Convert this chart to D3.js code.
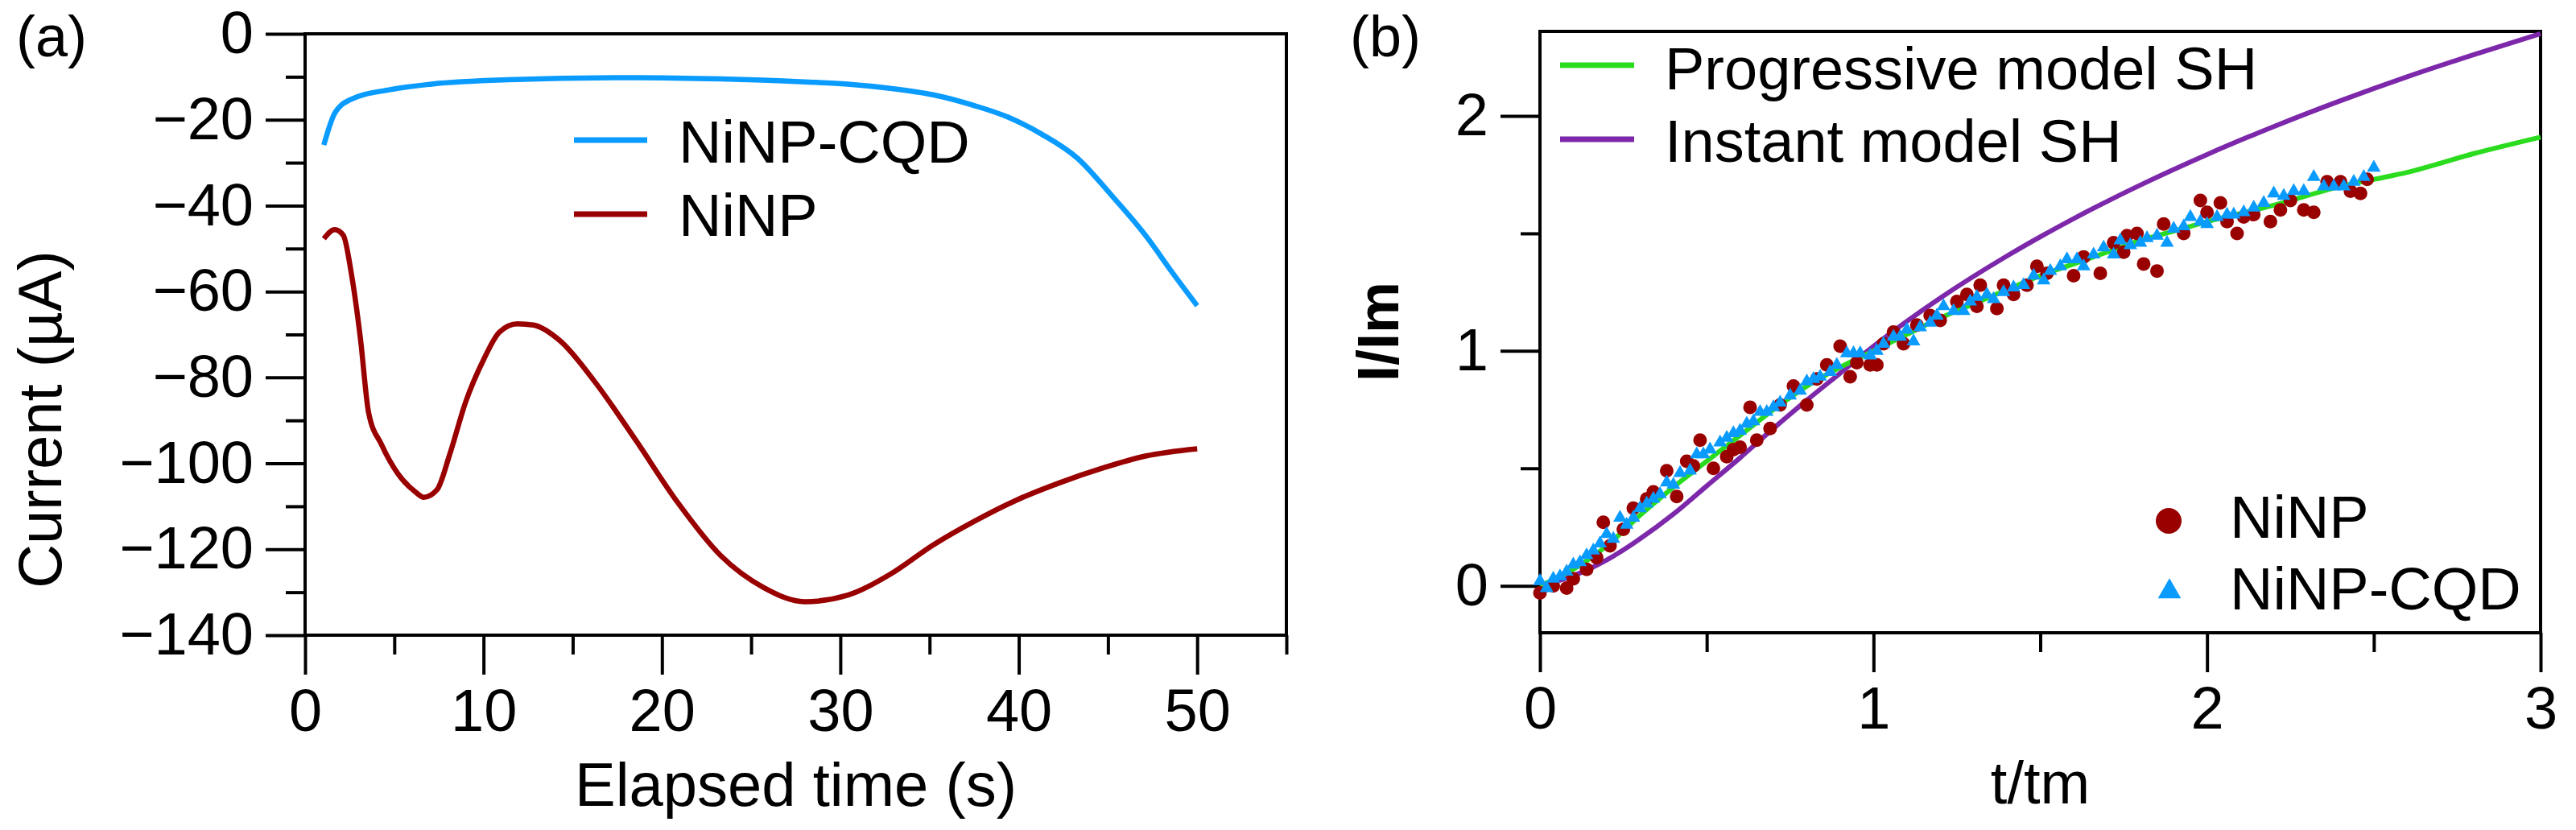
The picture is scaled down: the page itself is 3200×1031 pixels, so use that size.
<!DOCTYPE html>
<html>
<head>
<meta charset="utf-8">
<script src="https://cdn.jsdelivr.net/npm/d3@7"></script>
<style>
  html, body { margin: 0; padding: 0; background: #fff; }
  svg text { font-family: "Liberation Sans", Arial, sans-serif; fill: #000; }
</style>
</head>
<body>
<svg id="chart" width="3200" height="1031"></svg>
<script>
// ---------- Panel (a) data: chronoamperometry ----------
const cqdTime = [1.05, 1.66, 2.5, 4.75, 7.1, 11.4, 18.5, 23.3, 28, 30.4, 32.8, 35.2, 37.5, 39.4, 41.3, 43.3, 45.2, 47.1, 48.7, 50];
const cqdCurrent = [-25.9, -18.5, -15.4, -13.0, -11.7, -10.7, -10.2, -10.5, -11.2, -11.7, -12.7, -14.2, -16.7, -19.4, -23.4, -29.0, -37.6, -46.9, -56.1, -63.3];

const ninpTime = [1.05, 1.66, 2.14, 2.6, 3.1, 3.56, 4.28, 5.2, 6.2, 6.65, 7.4, 8.1, 9.0, 10.0, 10.9, 11.9, 12.8, 14.3, 16.2, 18.5, 20.9, 23.3, 25.7, 28, 30.4, 32.8, 35.2, 37.5, 39.9, 42.3, 44.7, 47.1, 50];
const ninpCurrent = [-47.7, -45.6, -46.9, -56.0, -70.9, -88.2, -95.6, -102.4, -106.7, -107.9, -106.1, -98.0, -85.7, -75.9, -69.4, -67.5, -67.8, -71.5, -80.8, -94.4, -109.2, -121.5, -128.9, -132.2, -130.7, -125.8, -119.0, -113.5, -108.5, -104.5, -101.1, -98.3, -96.6];

const aXTicks = [0, 10, 20, 30, 40, 50];
const aXMinor = [5, 15, 25, 35, 45, 55];
const aYTicks = [0, -20, -40, -60, -80, -100, -120, -140];
const aYMinor = [-10, -30, -50, -70, -90, -110, -130];
const aLegend = ["NiNP-CQD", "NiNP"];

// ---------- Panel (b) data: normalized transients ----------
const modelT = [0, 0.1, 0.2, 0.3, 0.4, 0.5, 0.6, 0.7, 0.8, 0.9, 1.0, 1.1, 1.2, 1.3, 1.4, 1.5, 1.6, 1.7, 1.8, 1.9, 2.0, 2.2, 2.4, 2.5, 2.6, 2.8, 3.0];
const progressiveSH = [0, 0.07, 0.17, 0.30, 0.42, 0.53, 0.64, 0.75, 0.85, 0.93, 1.00, 1.07, 1.14, 1.20, 1.26, 1.32, 1.37, 1.42, 1.47, 1.51, 1.55, 1.62, 1.70, 1.73, 1.76, 1.84, 1.91];
const instantT = [0, 0.1, 0.2, 0.3, 0.4, 0.5, 0.6, 0.7, 0.8, 0.9, 1.0, 1.2, 1.4, 1.6, 1.8, 2.0, 2.2, 2.4, 2.6, 2.8, 3.0];
const instantSH = [0, 0.043, 0.11, 0.20, 0.305, 0.425, 0.545, 0.67, 0.79, 0.905, 1.02, 1.225, 1.404, 1.563, 1.706, 1.836, 1.955, 2.065, 2.167, 2.261, 2.35];

const ninpT = [0, 0.04, 0.08, 0.10, 0.14, 0.17, 0.19, 0.21, 0.25, 0.28, 0.32, 0.34, 0.38, 0.41, 0.44, 0.46, 0.48, 0.52, 0.56, 0.58, 0.60, 0.63, 0.65, 0.69, 0.72, 0.76, 0.80, 0.83, 0.86, 0.90, 0.93, 0.95, 0.99, 1.01, 1.03, 1.06, 1.09, 1.13, 1.17, 1.20, 1.25, 1.28, 1.31, 1.32, 1.37, 1.39, 1.42, 1.46, 1.49, 1.52, 1.60, 1.63, 1.68, 1.72, 1.75, 1.76, 1.79, 1.81, 1.85, 1.87, 1.93, 1.98, 2.00, 2.04, 2.06, 2.09, 2.11, 2.14, 2.19, 2.22, 2.25, 2.29, 2.32, 2.36, 2.40, 2.43, 2.46, 2.48];
const ninpI = [-0.03, 0.00, -0.01, 0.03, 0.07, 0.12, 0.27, 0.17, 0.24, 0.33, 0.37, 0.40, 0.49, 0.38, 0.53, 0.51, 0.62, 0.50, 0.55, 0.58, 0.59, 0.76, 0.62, 0.67, 0.77, 0.85, 0.77, 0.88, 0.94, 1.02, 0.89, 0.95, 0.94, 0.94, 1.03, 1.08, 1.03, 1.11, 1.15, 1.13, 1.21, 1.24, 1.19, 1.28, 1.18, 1.28, 1.24, 1.28, 1.36, 1.33, 1.32, 1.40, 1.33, 1.46, 1.42, 1.49, 1.50, 1.37, 1.34, 1.54, 1.50, 1.64, 1.59, 1.63, 1.55, 1.50, 1.57, 1.58, 1.55, 1.60, 1.64, 1.60, 1.59, 1.72, 1.72, 1.68, 1.67, 1.73];

const cqdT = [0.00, 0.02, 0.04, 0.06, 0.08, 0.10, 0.12, 0.14, 0.16, 0.18, 0.20, 0.22, 0.24, 0.26, 0.28, 0.30, 0.32, 0.34, 0.36, 0.38, 0.40, 0.42, 0.45, 0.47, 0.49, 0.51, 0.54, 0.56, 0.58, 0.60, 0.62, 0.64, 0.66, 0.68, 0.70, 0.72, 0.75, 0.78, 0.80, 0.82, 0.84, 0.87, 0.89, 0.92, 0.94, 0.96, 0.99, 1.01, 1.03, 1.06, 1.08, 1.10, 1.12, 1.14, 1.17, 1.19, 1.21, 1.24, 1.27, 1.29, 1.31, 1.34, 1.36, 1.39, 1.42, 1.45, 1.48, 1.51, 1.53, 1.56, 1.58, 1.61, 1.63, 1.66, 1.69, 1.72, 1.74, 1.77, 1.80, 1.82, 1.85, 1.88, 1.90, 1.93, 1.95, 1.98, 2.00, 2.03, 2.06, 2.08, 2.11, 2.14, 2.17, 2.20, 2.23, 2.26, 2.29, 2.32, 2.35, 2.38, 2.41, 2.44, 2.47, 2.50];
const cqdI = [0.02, -0.01, 0.03, 0.04, 0.06, 0.09, 0.10, 0.13, 0.15, 0.18, 0.22, 0.20, 0.29, 0.26, 0.29, 0.33, 0.35, 0.37, 0.39, 0.44, 0.43, 0.48, 0.49, 0.56, 0.56, 0.58, 0.61, 0.63, 0.65, 0.66, 0.69, 0.70, 0.74, 0.74, 0.76, 0.78, 0.81, 0.83, 0.87, 0.88, 0.89, 0.91, 0.94, 0.99, 0.99, 0.99, 0.98, 1.00, 1.03, 1.06, 1.06, 1.09, 1.04, 1.10, 1.12, 1.15, 1.19, 1.17, 1.17, 1.21, 1.23, 1.24, 1.22, 1.25, 1.27, 1.28, 1.32, 1.30, 1.34, 1.36, 1.39, 1.39, 1.36, 1.41, 1.44, 1.41, 1.47, 1.45, 1.46, 1.48, 1.49, 1.46, 1.52, 1.53, 1.57, 1.55, 1.54, 1.57, 1.58, 1.58, 1.59, 1.61, 1.63, 1.67, 1.66, 1.68, 1.68, 1.74, 1.70, 1.70, 1.70, 1.72, 1.74, 1.78];

const bXTicks = [0, 1, 2, 3];
const bXMinor = [0.5, 1.5, 2.5];
const bYTicks = [0, 1, 2];
const bYMinor = [0.5, 1.5];
const bModelLegend = ["Progressive model SH", "Instant model SH"];
const bDataLegend = ["NiNP", "NiNP-CQD"];

// ---------- styles ----------
const C_BLUE = "#0a9bff", C_RED = "#990000", C_GREEN = "#2bdc1e", C_PURPLE = "#7d28aa";
const FS = 74;

const svg = d3.select("#chart");

function drawAxes(g, x, y, xt, xm, yt, ym, xfmt, yfmt) {
  const [x0, x1] = x.range();
  const [y0, y1] = y.range(); // y0 bottom, y1 top
  g.append("rect").attr("x", x0).attr("y", y1).attr("width", x1 - x0).attr("height", y0 - y1)
    .attr("fill", "none").attr("stroke", "#000").attr("stroke-width", 4);
  const styleAxis = a => {
    a.select(".domain").remove();
    a.selectAll("line").attr("stroke", "#000").attr("stroke-width", 4);
    a.selectAll("text").attr("font-size", FS).attr("font-family", "Liberation Sans, Arial, sans-serif").attr("fill", "#000");
  };
  g.append("g").attr("transform", `translate(0,${y0})`)
    .call(d3.axisBottom(x).tickValues(xt).tickSize(49).tickPadding(17).tickFormat(xfmt)).call(styleAxis);
  g.append("g").attr("transform", `translate(0,${y0})`)
    .call(d3.axisBottom(x).tickValues(xm).tickSize(24).tickFormat("")).call(styleAxis);
  g.append("g").attr("transform", `translate(${x0},0)`)
    .call(d3.axisLeft(y).tickValues(yt).tickSize(49).tickPadding(15).tickFormat(yfmt)).call(styleAxis);
  g.append("g").attr("transform", `translate(${x0},0)`)
    .call(d3.axisLeft(y).tickValues(ym).tickSize(24).tickFormat("")).call(styleAxis);
}

// ================= Panel (a) =================
const xA = d3.scaleLinear([0, 55], [379, 1598]);
const yA = d3.scaleLinear([-140, 0], [789, 42]);
const gA = svg.append("g");
drawAxes(gA, xA, yA, aXTicks, aXMinor, aYTicks, aYMinor, d3.format("d"), d3.format("d"));

const lineA = d3.line().x(d => xA(d[0])).y(d => yA(d[1])).curve(d3.curveMonotoneX);
gA.append("path").datum(cqdTime.map((t, i) => [t, cqdCurrent[i]]))
  .attr("d", lineA).attr("fill", "none").attr("stroke", C_BLUE).attr("stroke-width", 6.5).attr("stroke-linejoin", "round");
gA.append("path").datum(ninpTime.map((t, i) => [t, ninpCurrent[i]]))
  .attr("d", lineA).attr("fill", "none").attr("stroke", C_RED).attr("stroke-width", 6.5).attr("stroke-linejoin", "round");

const legA = [{ label: aLegend[0], color: C_BLUE, y: 174, base: 202 }, { label: aLegend[1], color: C_RED, y: 266, base: 293 }];
legA.forEach(d => {
  gA.append("line").attr("x1", 713).attr("x2", 804).attr("y1", d.y).attr("y2", d.y)
    .attr("stroke", d.color).attr("stroke-width", 7);
  gA.append("text").attr("x", 843).attr("y", d.base).attr("font-size", FS).text(d.label);
});

gA.append("text").attr("x", (379 + 1598) / 2).attr("y", 1001).attr("text-anchor", "middle")
  .attr("font-size", 76).text("Elapsed time (s)");
gA.append("text").attr("transform", "translate(76,521) rotate(-90)").attr("text-anchor", "middle")
  .attr("font-size", 76).text("Current (µA)");
gA.append("text").attr("x", 20).attr("y", 70).attr("font-size", 72).text("(a)");

// ================= Panel (b) =================
const xB = d3.scaleLinear([0, 3], [1913, 3156]);
const yB = d3.scaleLinear([-0.2, 2.36], [786, 39]);
const gB = svg.append("g");
drawAxes(gB, xB, yB, bXTicks, bXMinor, bYTicks, bYMinor, d3.format("d"), d3.format("d"));

const lineB = d3.line().x(d => xB(d[0])).y(d => yB(d[1])).curve(d3.curveMonotoneX);
gB.append("path").datum(instantT.map((t, i) => [t, instantSH[i]]))
  .attr("d", lineB).attr("fill", "none").attr("stroke", C_PURPLE).attr("stroke-width", 6);
gB.append("path").datum(modelT.map((t, i) => [t, progressiveSH[i]]))
  .attr("d", lineB).attr("fill", "none").attr("stroke", C_GREEN).attr("stroke-width", 6);

gB.append("g").selectAll("circle").data(ninpT.map((t, i) => [t, ninpI[i]])).join("circle")
  .attr("cx", d => xB(d[0])).attr("cy", d => yB(d[1])).attr("r", 8.5).attr("fill", C_RED);
const tri = d3.symbol().type(d3.symbolTriangle).size(125);
gB.append("g").selectAll("path").data(cqdT.map((t, i) => [t, cqdI[i]])).join("path")
  .attr("d", tri).attr("transform", d => `translate(${xB(d[0])},${yB(d[1])})`).attr("fill", C_BLUE);

const legB = [{ label: bModelLegend[0], color: C_GREEN, y: 81, base: 111 }, { label: bModelLegend[1], color: C_PURPLE, y: 173, base: 201 }];
legB.forEach(d => {
  gB.append("line").attr("x1", 1938).attr("x2", 2030).attr("y1", d.y).attr("y2", d.y)
    .attr("stroke", d.color).attr("stroke-width", 7);
  gB.append("text").attr("x", 2068).attr("y", d.base).attr("font-size", FS).text(d.label);
});
gB.append("circle").attr("cx", 2694).attr("cy", 647).attr("r", 16).attr("fill", C_RED);
gB.append("path").attr("d", d3.symbol().type(d3.symbolTriangle).size(360)).attr("transform", "translate(2695,735)").attr("fill", C_BLUE);
gB.append("text").attr("x", 2770).attr("y", 668).attr("font-size", FS).text(bDataLegend[0]);
gB.append("text").attr("x", 2770).attr("y", 757).attr("font-size", FS).text(bDataLegend[1]);

gB.append("text").attr("x", (1913 + 3156) / 2).attr("y", 998).attr("text-anchor", "middle")
  .attr("font-size", 74).text("t/tm");
gB.append("text").attr("transform", "translate(1737,412) rotate(-90)").attr("text-anchor", "middle")
  .attr("font-size", 72).attr("font-weight", "bold").text("I/Im");
gB.append("text").attr("x", 1677).attr("y", 70).attr("font-size", 72).text("(b)");
</script>
</body>
</html>
